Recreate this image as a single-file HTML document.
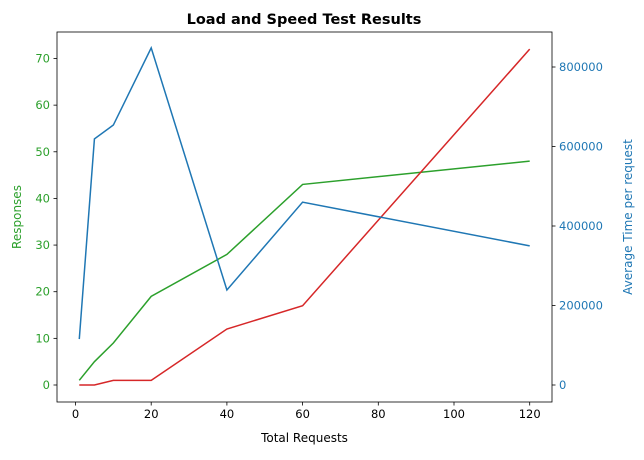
<!DOCTYPE html>
<html><head><meta charset="utf-8"><style>
body{margin:0;background:#fff;font-family:"Liberation Sans","DejaVu Sans",sans-serif}
svg text{font-family:"DejaVu Sans","Liberation Sans",sans-serif}
</style></head><body>
<svg id="chart" width="644" height="455" xmlns="http://www.w3.org/2000/svg">
<text x="304" y="24" text-anchor="middle" font-size="14.5" font-weight="bold">Load and Speed Test Results</text>
<g id="grid"></g>
<rect x="57" y="32" width="495" height="370" fill="none" stroke="#000" stroke-width="0.8"/>
<text x="304.5" y="442" text-anchor="middle" font-size="12">Total Requests</text>
<text transform="translate(21,217) rotate(-90)" text-anchor="middle" font-size="12" fill="#2ca02c">Responses</text>
<text transform="translate(632,217) rotate(-90)" text-anchor="middle" font-size="12" fill="#1f77b4">Average Time per request</text>
</svg>
<script>
const requests=[1,5,10,20,40,60,120];
const responses=[1,5,9,19,28,43,48];
const failures=[0,0,1,1,12,17,72];
const avgTime=[115700,619000,654000,848000,239000,460000,350000];
const xTicks=[0,20,40,60,80,100,120];
const leftTicks=[0,10,20,30,40,50,60,70];
const rightTicks=[0,200000,400000,600000,800000];
const NS="http://www.w3.org/2000/svg";
const svg=document.getElementById('chart');
const X=v=>75.5+(v-0)*(529.7-75.5)/120;
const YL=v=>385-v*(385-58.5)/70;
const YR=v=>385-v*79.5/200000;
function mk(t,a){const e=document.createElementNS(NS,t);for(const k in a)e.setAttribute(k,a[k]);svg.appendChild(e);return e;}
xTicks.forEach(v=>{
 const l=mk('line',{x1:X(v),x2:X(v),y1:402,y2:405.5,stroke:'#000','stroke-width':0.8});
 
 
 const t=mk('text',{x:X(v),y:418,'text-anchor':'middle','font-size':11.5});t.textContent=v;
 
 
});
leftTicks.forEach(v=>{
 const l=mk('line',{x1:53.5,x2:57,y1:YL(v),y2:YL(v),stroke:'#000','stroke-width':0.8});
 
 
 const t=mk('text',{x:50,y:YL(v)+4,'text-anchor':'end','font-size':11.5,fill:'#2ca02c'});t.textContent=v;
 
 
});
rightTicks.forEach(v=>{
 const l=mk('line',{x1:552,x2:555.5,y1:YR(v),y2:YR(v),stroke:'#000','stroke-width':0.8});
 
 
 const t=mk('text',{x:559,y:YR(v)+4,'text-anchor':'start','font-size':11.5,fill:'#1f77b4'});t.textContent=v;
 
 
});
function line(vals,yf,color,name){
 const p=mk('polyline',{points:vals.map((v,i)=>X(requests[i])+','+yf(v)).join(' '),fill:'none',stroke:color,'stroke-width':1.5});
 
 
}
line(responses,YL,'#2ca02c','responses-line');
line(failures,YL,'#d62728','failures-line');
line(avgTime,YR,'#1f77b4','avg-time-line');
</script>
</body></html>
